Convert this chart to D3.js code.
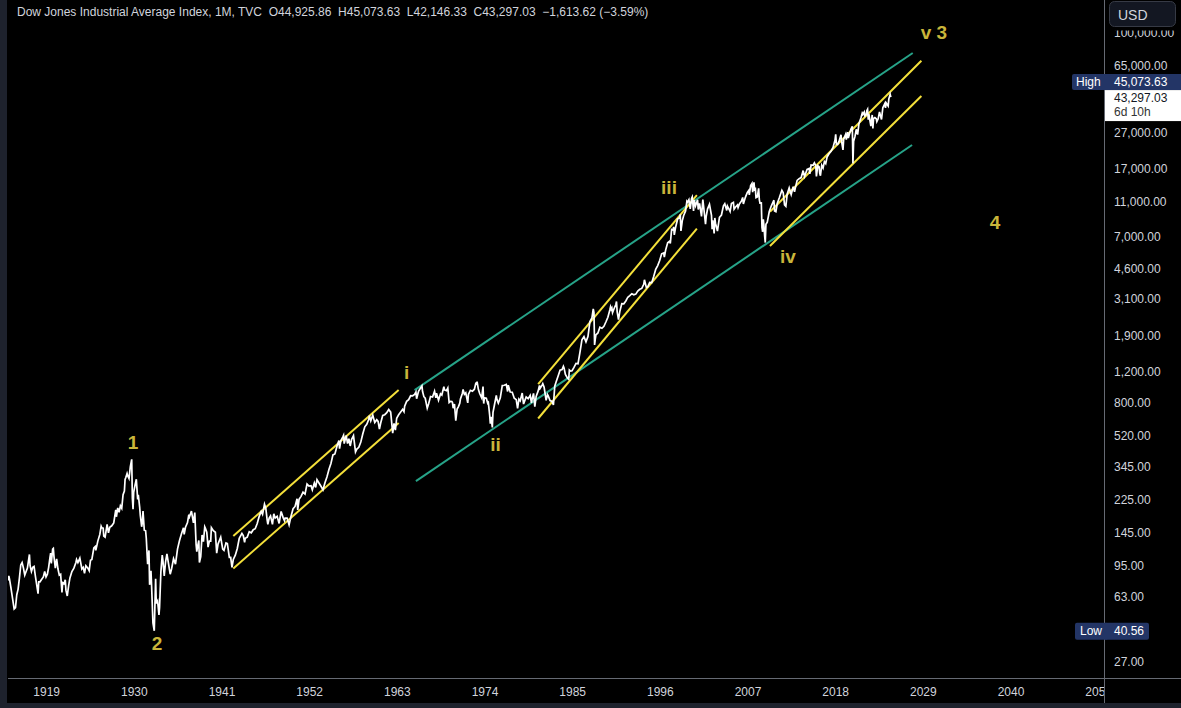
<!DOCTYPE html>
<html><head><meta charset="utf-8">
<script src="https://cdn.jsdelivr.net/npm/d3@7"></script>
<style>
html,body{margin:0;padding:0;background:#000;overflow:hidden;}
svg{display:block;}
text{font-family:"Liberation Sans",Arial,sans-serif;}
</style></head>
<body>
<svg id="c" width="1181" height="708"></svg>
<script>
// ---------------- DATA ----------------
const title = "Dow Jones Industrial Average Index, 1M, TVC";
const ohlcText = "O44,925.86  H45,073.63  L42,146.33  C43,297.03  \u22121,613.62 (\u22123.59%)";
const priceTicks = [100000, 65000, 27000, 17000, 11000, 7000, 4600, 3100, 1900, 1200, 800, 520, 345, 225, 145, 95, 63, 27];
const yearTicks = [1919, 1930, 1941, 1952, 1963, 1974, 1985, 1996, 2007, 2018, 2029, 2040, 2051];
const lastPrice = 43297.03, highPrice = 45073.63, lowPrice = 40.56, countdown = "6d 10h";

const djia = [
["1914-02",81],["1914-03",80],["1914-04",83],["1914-05",80],["1914-07",72],["1914-12",54],
["1915-02",55],["1915-04",65],["1915-06",70],["1915-08",81],["1915-10",96],["1915-12",99],
["1916-02",92],["1916-04",84],["1916-06",88],["1916-08",92],["1916-10",104],["1916-11",110],["1916-12",95],
["1917-02",88],["1917-04",93],["1917-06",94],["1917-08",83],["1917-10",74],["1917-12",66],
["1918-01",77],["1918-03",77],["1918-05",79],["1918-08",82],["1918-10",88],["1918-12",82],
["1919-02",85],["1919-04",93],["1919-06",106],["1919-07",112],["1919-08",98],["1919-10",118],["1919-11",119],["1919-12",107],
["1920-02",92],["1920-04",104],["1920-06",91],["1920-08",84],["1920-10",85],["1920-12",67],
["1921-01",76],["1921-03",75],["1921-05",79],["1921-06",69],["1921-08",64],["1921-10",73],["1921-12",81],
["1922-03",88],["1922-06",92],["1922-09",99],["1922-10",103],["1922-12",99],
["1923-03",105],["1923-06",91],["1923-08",93],["1923-10",86],["1923-12",95],
["1924-03",92],["1924-05",89],["1924-07",102],["1924-09",103],["1924-12",120],
["1925-02",122],["1925-03",116],["1925-06",131],["1925-09",143],["1925-11",159],["1925-12",156],
["1926-02",155],["1926-03",140],["1926-05",138],["1926-08",163],["1926-10",146],["1926-12",157],
["1927-03",160],["1927-06",166],["1927-09",197],["1927-10",180],["1927-12",202],
["1928-02",191],["1928-04",208],["1928-06",201],["1928-08",240],["1928-10",252],["1928-11",293],["1928-12",300],
["1929-02",317],["1929-03",308],["1929-05",297],["1929-07",347],["1929-09",381],["1929-10",230],["1929-11",199],["1929-12",248],
["1930-02",272],["1930-04",294],["1930-06",226],["1930-07",240],["1930-09",204],["1930-10",183],["1930-12",158],
["1931-01",167],["1931-02",194],["1931-04",151],["1931-06",150],["1931-07",136],["1931-09",97],["1931-11",116],["1931-12",74],
["1932-02",89],["1932-03",73],["1932-05",45],["1932-07",40.56],["1932-09",80],["1932-10",58],["1932-12",60],
["1933-02",50],["1933-03",55],["1933-05",88],["1933-07",109],["1933-08",102],["1933-10",83],["1933-12",100],
["1934-02",111],["1934-04",100],["1934-07",85],["1934-09",91],["1934-12",104],
["1935-03",97],["1935-06",118],["1935-09",132],["1935-12",144],
["1936-03",156],["1936-04",143],["1936-06",157],["1936-09",167],["1936-11",185],["1936-12",180],
["1937-03",194],["1937-06",166],["1937-08",190],["1937-10",125],["1937-11",114],["1937-12",121],
["1938-02",132],["1938-03",99],["1938-05",107],["1938-07",142],["1938-09",130],["1938-11",158],["1938-12",155],
["1939-02",147],["1939-04",121],["1939-06",131],["1939-08",131],["1939-09",156],["1939-12",150],
["1940-03",147],["1940-05",112],["1940-07",126],["1940-09",132],["1940-11",138],["1940-12",131],
["1941-02",118],["1941-04",116],["1941-07",128],["1941-09",127],["1941-12",106],
["1942-02",106],["1942-04",93],["1942-06",103],["1942-09",109],["1942-12",119],
["1943-03",136],["1943-07",145],["1943-09",141],["1943-11",129],["1943-12",136],
["1944-03",138],["1944-06",148],["1944-09",146],["1944-12",152],
["1945-03",154],["1945-06",165],["1945-09",181],["1945-12",193],
["1946-02",186],["1946-05",212],["1946-07",201],["1946-09",172],["1946-10",163],["1946-12",177],
["1947-02",182],["1947-05",163],["1947-07",187],["1947-09",177],["1947-12",181],
["1948-03",165],["1948-06",193],["1948-09",178],["1948-11",171],["1948-12",177],
["1949-03",177],["1949-06",162],["1949-09",182],["1949-12",200],
["1950-03",206],["1950-06",228],["1950-07",197],["1950-09",226],["1950-12",235],
["1951-03",248],["1951-06",242],["1951-09",276],["1951-12",269],
["1952-03",270],["1952-05",256],["1952-08",280],["1952-10",264],["1952-12",292],
["1953-03",280],["1953-06",268],["1953-09",256],["1953-12",281],
["1954-03",303],["1954-06",334],["1954-09",361],["1954-12",404],
["1955-03",409],["1955-06",451],["1955-09",487],["1955-10",438],["1955-12",488],
["1956-03",511],["1956-04",521],["1956-05",468],["1956-08",520],["1956-10",468],["1956-12",499],
["1957-02",454],["1957-04",494],["1957-07",520],["1957-10",420],["1957-12",436],
["1958-03",446],["1958-06",478],["1958-09",532],["1958-12",583],
["1959-03",602],["1959-06",643],["1959-07",675],["1959-09",631],["1959-12",679],
["1960-03",616],["1960-06",640],["1960-08",626],["1960-10",566],["1960-12",615],
["1961-03",676],["1961-06",683],["1961-09",701],["1961-12",731],
["1962-03",706],["1962-05",590],["1962-06",536],["1962-08",609],["1962-10",558],["1962-12",652],
["1963-03",682],["1963-06",707],["1963-09",733],["1963-11",711],["1963-12",763],
["1964-03",813],["1964-06",832],["1964-09",875],["1964-12",874],
["1965-03",889],["1965-05",918],["1965-06",841],["1965-09",931],["1965-12",969],
["1966-02",995],["1966-03",924],["1966-05",864],["1966-07",847],["1966-10",744],["1966-12",786],
["1967-03",866],["1967-06",860],["1967-09",927],["1967-11",850],["1967-12",905],
["1968-03",825],["1968-06",898],["1968-08",883],["1968-11",985],["1968-12",944],
["1969-03",935],["1969-05",968],["1969-07",801],["1969-09",813],["1969-11",812],["1969-12",800],
["1970-01",744],["1970-03",785],["1970-05",631],["1970-07",735],["1970-09",760],["1970-11",794],["1970-12",839],
["1971-03",904],["1971-04",950],["1971-06",891],["1971-08",908],["1971-11",797],["1971-12",890],
["1972-03",940],["1972-06",929],["1972-09",953],["1972-11",1025],["1972-12",1020],
["1973-01",1051],["1973-03",951],["1973-05",901],["1973-08",851],["1973-10",987],["1973-11",790],["1973-12",851],
["1974-03",847],["1974-05",795],["1974-06",802],["1974-08",679],["1974-09",608],["1974-10",665],["1974-12",578],
["1975-01",704],["1975-03",768],["1975-06",878],["1975-07",832],["1975-09",794],["1975-12",852],
["1976-03",999],["1976-06",1003],["1976-09",1015],["1976-11",925],["1976-12",1004],
["1977-03",919],["1977-06",916],["1977-09",847],["1977-12",831],
["1978-02",742],["1978-04",837],["1978-06",819],["1978-09",907],["1978-11",785],["1978-12",805],
["1979-03",862],["1979-06",842],["1979-09",879],["1979-11",796],["1979-12",839],
["1980-02",903],["1980-04",759],["1980-06",868],["1980-09",932],["1980-11",1000],["1980-12",964],
["1981-03",1004],["1981-04",1024],["1981-06",977],["1981-09",824],["1981-11",889],["1981-12",875],
["1982-03",822],["1982-06",812],["1982-08",777],["1982-10",991],["1982-12",1047],
["1983-03",1130],["1983-06",1222],["1983-09",1233],["1983-11",1287],["1983-12",1259],
["1984-02",1155],["1984-05",1105],["1984-07",1087],["1984-08",1224],["1984-10",1207],["1984-12",1212],
["1985-03",1267],["1985-06",1336],["1985-09",1329],["1985-12",1547],
["1986-03",1819],["1986-06",1893],["1986-09",1768],["1986-12",1896],
["1987-03",2305],["1987-06",2419],["1987-08",2722],["1987-09",2596],["1987-10",1700],["1987-11",1834],["1987-12",1939],
["1988-03",1988],["1988-06",2142],["1988-09",2113],["1988-12",2169],
["1989-03",2293],["1989-06",2440],["1989-09",2693],["1989-10",2791],["1989-11",2706],["1989-12",2753],
["1990-01",2591],["1990-03",2707],["1990-06",2881],["1990-07",2999],["1990-08",2614],["1990-10",2365],["1990-12",2634],
["1991-03",2914],["1991-06",2907],["1991-09",3017],["1991-12",3169],
["1992-03",3236],["1992-06",3319],["1992-09",3272],["1992-12",3301],
["1993-03",3435],["1993-06",3516],["1993-09",3555],["1993-12",3754],
["1994-01",3978],["1994-04",3593],["1994-06",3625],["1994-09",3843],["1994-12",3834],
["1995-03",4158],["1995-06",4556],["1995-09",4789],["1995-12",5117],
["1996-03",5587],["1996-06",5655],["1996-07",5346],["1996-09",5882],["1996-12",6448],
["1997-03",6584],["1997-04",6391],["1997-06",7673],["1997-08",7622],["1997-09",7945],["1997-10",7161],["1997-12",7908],
["1998-03",8800],["1998-06",8952],["1998-07",9338],["1998-08",7539],["1998-10",8592],["1998-12",9181],
["1999-03",9786],["1999-05",11107],["1999-06",10971],["1999-08",11326],["1999-10",10035],["1999-12",11497],
["2000-01",11723],["2000-03",9796],["2000-04",11287],["2000-06",10448],["2000-09",11310],["2000-10",9975],["2000-12",10787],
["2001-03",9106],["2001-05",11337],["2001-06",10502],["2001-09",8236],["2001-10",9075],["2001-12",10022],
["2002-03",10673],["2002-06",9243],["2002-07",7702],["2002-08",8663],["2002-10",7286],["2002-11",8931],["2002-12",8342],
["2003-03",7524],["2003-06",8985],["2003-09",9275],["2003-12",10454],
["2004-02",10737],["2004-05",9852],["2004-06",10435],["2004-10",9708],["2004-12",10783],
["2005-03",10940],["2005-04",10012],["2005-06",10275],["2005-09",10569],["2005-10",10216],["2005-12",10718],
["2006-03",11109],["2006-05",11670],["2006-06",10706],["2006-09",11679],["2006-12",12463],
["2007-02",12786],["2007-03",12050],["2007-05",13628],["2007-07",14022],["2007-08",12518],["2007-10",14198],["2007-11",12725],["2007-12",13265],
["2008-01",11634],["2008-03",11731],["2008-05",13136],["2008-06",11350],["2008-07",10827],["2008-09",10851],["2008-10",7882],["2008-11",7449],["2008-12",8776],
["2009-01",8001],["2009-02",7063],["2009-03",6470],["2009-04",8212],["2009-06",8447],["2009-09",9712],["2009-12",10428],
["2010-04",11258],["2010-05",9774],["2010-07",9686],["2010-09",10788],["2010-12",11578],
["2011-04",12811],["2011-06",12414],["2011-08",10604],["2011-10",10405],["2011-12",12218],
["2012-03",13212],["2012-06",12101],["2012-09",13437],["2012-11",12543],["2012-12",13104],
["2013-03",14579],["2013-06",14910],["2013-09",15130],["2013-12",16577],
["2014-02",15340],["2014-06",16827],["2014-09",17043],["2014-10",15855],["2014-12",17823],
["2015-03",17776],["2015-05",18351],["2015-07",17690],["2015-08",15370],["2015-10",17663],["2015-12",17425],
["2016-01",15988],["2016-02",15503],["2016-04",17773],["2016-06",17140],["2016-08",18636],["2016-10",18142],["2016-12",19763],
["2017-03",20663],["2017-06",21350],["2017-09",22405],["2017-12",24719],
["2018-01",26617],["2018-02",23360],["2018-04",23344],["2018-06",24271],["2018-09",26458],["2018-10",24122],["2018-12",21713],
["2019-01",24999],["2019-04",26593],["2019-05",24815],["2019-07",27398],["2019-08",25339],["2019-12",28538],
["2020-02",29569],["2020-03",18214],["2020-04",24346],["2020-06",25813],["2020-08",28430],["2020-10",26502],["2020-12",30606],
["2021-03",32982],["2021-05",35091],["2021-06",34503],["2021-08",35631],["2021-09",33844],["2021-11",34484],["2021-12",36338],
["2022-01",36953],["2022-02",32272],["2022-03",34678],["2022-05",31253],["2022-06",29653],["2022-08",34281],["2022-09",28715],["2022-10",32733],["2022-12",33147],
["2023-02",32656],["2023-03",31430],["2023-05",32586],["2023-07",35679],["2023-10",32327],["2023-12",37690],
["2024-03",39807],["2024-04",37611],["2024-05",40077],["2024-08",38499],["2024-09",42330],["2024-11",44911],["2024-12",43297.03]
];

// trend lines: [start date, start value, end date, end value]
const greenLines = [
  ["1965-03", 942, "2027-09", 77000],
  ["1965-05", 287, "2027-08", 23140]
];
const yellowLines = [
  ["1942-06", 140, "1963-03", 942],
  ["1942-06", 91.6, "1963-03", 612],
  ["1980-09", 1018, "2000-08", 12040],
  ["1980-09", 650, "2000-08", 7774],
  ["2009-10", 9678, "2028-10", 69630],
  ["2009-10", 6182, "2028-10", 43890]
];
const waveLabels = [
  ["1", "1929-11", 477], ["2", "1932-11", 34.5], ["i", "1964-03", 1191], ["ii", "1975-05", 465],
  ["iii", "1997-02", 13370], ["iv", "2012-01", 5425], ["v 3", "2030-05", 101300], ["4", "2038-01", 8459]
];

// ---------------- CHART ----------------
const W = 1181, H = 708;
const plotLeft = 8, plotRight = 1104, plotBottom = 678;
const parse = d3.timeParse("%Y-%m");
const svg = d3.select("#c");
const x = d3.scaleTime().domain([new Date(1914,0,1), new Date(2051,0,1)]).range([6.85, 1098.7]);
const y = d3.scaleLog().domain([27, 100000]).range([662, 33]);
const fmt = d3.format(",.2f");
const textCol = "#d1d4dc";

svg.append("rect").attr("width", W).attr("height", H).attr("fill", "#000");
const defs = svg.append("defs");
defs.append("clipPath").attr("id","plotClip").append("rect")
  .attr("x", plotLeft).attr("y", 0).attr("width", plotRight - plotLeft).attr("height", plotBottom);

const plot = svg.append("g").attr("clip-path", "url(#plotClip)");

// trend lines
const seg = (arr, color) => plot.selectAll(null).data(arr).enter().append("line")
  .attr("x1", d => x(parse(d[0]))).attr("y1", d => y(d[1]))
  .attr("x2", d => x(parse(d[2]))).attr("y2", d => y(d[3]))
  .attr("stroke", color).attr("stroke-width", 2);
seg(greenLines, "#26a388");
seg(yellowLines, "#f4e03a");

// price line
const line = d3.line().x(d => x(parse(d[0]))).y(d => y(d[1]));
plot.append("path").datum(djia).attr("d", line)
  .attr("fill", "none").attr("stroke", "#ffffff").attr("stroke-width", 1.7).attr("stroke-linejoin", "miter");

// wave labels
plot.selectAll(null).data(waveLabels).enter().append("text")
  .attr("x", d => x(parse(d[1]))).attr("y", d => y(d[2]))
  .attr("text-anchor", "middle").attr("dominant-baseline", "central")
  .attr("fill", "#c9b53a").attr("font-size", 19).attr("font-weight", "bold")
  .text(d => d[0]);

// header
svg.append("text").attr("x", 17).attr("y", 16).attr("fill", textCol).attr("font-size", 12)
  .text(title + "  " + ohlcText).attr("xml:space", "preserve");

// axes borders
svg.append("line").attr("x1", plotRight + 0.5).attr("x2", plotRight + 0.5).attr("y1", 0).attr("y2", 703)
  .attr("stroke", "#666a73").attr("stroke-width", 1);
svg.append("line").attr("x1", plotLeft).attr("x2", W).attr("y1", plotBottom + 0.5).attr("y2", plotBottom + 0.5)
  .attr("stroke", "#666a73").attr("stroke-width", 1);

// price axis labels
const yAxisG = svg.append("g");
yAxisG.selectAll(null).data(priceTicks).enter().append("text")
  .attr("x", 1114).attr("y", d => y(d)).attr("dominant-baseline", "central")
  .attr("fill", textCol).attr("font-size", 12).text(d => fmt(d));

// time axis labels (clipped at price scale)
defs.append("clipPath").attr("id","timeClip").append("rect")
  .attr("x", plotLeft).attr("y", plotBottom).attr("width", plotRight - plotLeft).attr("height", 30);
svg.append("g").attr("clip-path","url(#timeClip)").selectAll(null).data(yearTicks).enter().append("text")
  .attr("x", d => x(new Date(d,0,1))).attr("y", 692).attr("text-anchor","middle").attr("dominant-baseline","central")
  .attr("fill", textCol).attr("font-size", 12).text(d => d);

// high label (shifted above current price label)
const navy = "#233566";
const yHigh = y(highPrice) - 12;
svg.append("rect").attr("x", 1072).attr("y", yHigh - 8).attr("width", 34).attr("height", 16).attr("rx", 2).attr("fill", navy);
svg.append("rect").attr("x", 1104).attr("y", yHigh - 8).attr("width", 77).attr("height", 16).attr("fill", navy);
svg.append("text").attr("x", 1076).attr("y", yHigh).attr("dominant-baseline","central").attr("fill", "#fff").attr("font-size", 12).text("High");
svg.append("text").attr("x", 1114).attr("y", yHigh).attr("dominant-baseline","central").attr("fill", "#fff").attr("font-size", 12).text(fmt(highPrice));

// current price label
const yLast = y(lastPrice);
svg.append("rect").attr("x", 1105).attr("y", yLast - 7).attr("width", 76).attr("height", 31).attr("fill", "#fff");
svg.append("text").attr("x", 1114).attr("y", yLast + 1).attr("dominant-baseline","central").attr("fill", "#131722").attr("font-size", 12).text(fmt(lastPrice));
svg.append("text").attr("x", 1114).attr("y", yLast + 15).attr("dominant-baseline","central").attr("fill", "#333").attr("font-size", 12).text(countdown);

// low label
const yLow = y(lowPrice);
svg.append("rect").attr("x", 1075).attr("y", yLow - 8).attr("width", 33).attr("height", 17).attr("rx", 2).attr("fill", navy);
svg.append("rect").attr("x", 1104).attr("y", yLow - 8).attr("width", 45).attr("height", 17).attr("rx", 2).attr("fill", navy);
svg.append("text").attr("x", 1080).attr("y", yLow).attr("dominant-baseline","central").attr("fill", "#fff").attr("font-size", 12).text("Low");
svg.append("text").attr("x", 1114).attr("y", yLow).attr("dominant-baseline","central").attr("fill", "#fff").attr("font-size", 12).text(fmt(lowPrice));

// USD button area (covers top of the highest tick label)
svg.append("rect").attr("x", 1105).attr("y", 0).attr("width", 76).attr("height", 30.5).attr("fill", "#000");
svg.append("rect").attr("x", 1109.5).attr("y", 1.5).attr("width", 66).attr("height", 25).attr("rx", 5)
  .attr("fill", "#131722").attr("stroke", "#363a45");
svg.append("text").attr("x", 1118).attr("y", 14.5).attr("dominant-baseline","central").attr("fill", textCol).attr("font-size", 14).text("USD");

// frame strips
svg.append("rect").attr("x", 0).attr("y", 0).attr("width", 7).attr("height", H).attr("fill", "#1e222d");
svg.append("rect").attr("x", 0).attr("y", 703).attr("width", W).attr("height", 5).attr("fill", "#1e222d");
</script>
</body></html>
